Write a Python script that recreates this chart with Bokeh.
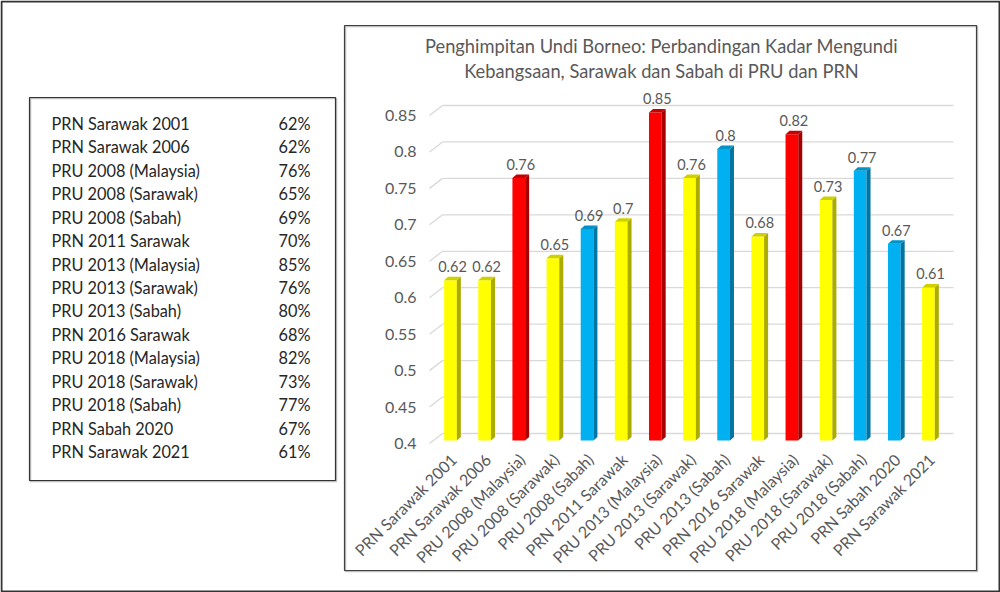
import math
from bokeh.plotting import figure
from bokeh.models import Range1d, FixedTicker, LinearAxis
from bokeh.core.properties import value
from bokeh.embed import file_html
from bokeh.resources import INLINE

# ---------------- data ----------------
categories = [
    "PRN Sarawak 2001", "PRN Sarawak 2006", "PRU 2008 (Malaysia)", "PRU 2008 (Sarawak)",
    "PRU 2008 (Sabah)", "PRN 2011 Sarawak", "PRU 2013 (Malaysia)", "PRU 2013 (Sarawak)",
    "PRU 2013 (Sabah)", "PRN 2016 Sarawak", "PRU 2018 (Malaysia)", "PRU 2018 (Sarawak)",
    "PRU 2018 (Sabah)", "PRN Sabah 2020", "PRN Sarawak 2021",
]
turnout = [0.62, 0.62, 0.76, 0.65, 0.69, 0.70, 0.85, 0.76, 0.80, 0.68, 0.82, 0.73, 0.77, 0.67, 0.61]
region = ["Sarawak", "Sarawak", "Malaysia", "Sarawak", "Sabah", "Sarawak", "Malaysia", "Sarawak",
          "Sabah", "Sarawak", "Malaysia", "Sarawak", "Sabah", "Sabah", "Sarawak"]
table_pct = ["62%", "62%", "76%", "65%", "69%", "70%", "85%", "76%", "80%", "68%", "82%", "73%", "77%", "67%", "61%"]
y_ticks = [0.4, 0.45, 0.5, 0.55, 0.6, 0.65, 0.7, 0.75, 0.8, 0.85]
y_tick_labels = ["0.4", "0.45", "0.5", "0.55", "0.6", "0.65", "0.7", "0.75", "0.8", "0.85"]
title_lines = ["Penghimpitan Undi Borneo: Perbandingan Kadar Mengundi",
               "Kebangsaan, Sarawak dan Sabah di PRU dan PRN"]

# ---------------- styles / layout ----------------
FONT = "Lato"
front_col = {"Sarawak": "#FFFF00", "Malaysia": "#FF0000", "Sabah": "#00B0F0"}
side_col = {"Sarawak": "#ABAB00", "Malaysia": "#A80000", "Sabah": "#0074A3"}
top_col = {"Sarawak": "#D0D000", "Malaysia": "#C40000", "Sabah": "#0092C8"}
TEXT = "#595959"

W, H = 1000, 592
PPX = 34.14          # pixels per category
PPY = 728.9          # pixels per unit of turnout
X_FIRST = 450.0      # pixel centre of first bar
Y_BASE = 440.0       # pixel of value 0.4
BASE = 0.4


def cat_range(first_px):
    return Range1d((0 - first_px) / PPX, (W - first_px) / PPX)


def val_range(base_px):
    return Range1d(BASE - (H - base_px) / PPY, BASE + base_px / PPY)


p = figure(width=W, height=H, output_backend="svg", toolbar_location=None,
           x_range=Range1d(0, W), y_range=Range1d(H, 0),
           x_axis_location=None, y_axis_location=None, min_border=0)
p.extra_x_ranges = {"cat": cat_range(X_FIRST), "cat_axis": cat_range(X_FIRST + 3)}
p.extra_y_ranges = {"val": val_range(Y_BASE), "val_axis": val_range(Y_BASE + 3)}
p.background_fill_color = "white"
p.border_fill_color = "white"
p.outline_line_color = None
p.grid.visible = False

# ---------- back-wall gridlines with perspective stubs ----------
gx_front = (429 - X_FIRST) / PPX
gx_back = (442 - X_FIRST) / PPX
gx_end = (953 - X_FIRST) / PPX
back_dy = 7 / PPY
front_dy = 3 / PPY
n = len(y_ticks)
p.segment(x0=[gx_back] * n, y0=[t + back_dy for t in y_ticks], x1=[gx_end] * n,
          y1=[t + back_dy for t in y_ticks], line_color="#D9D9D9", line_width=1.3,
          x_range_name="cat", y_range_name="val")
p.segment(x0=[gx_front] * n, y0=[t - front_dy for t in y_ticks], x1=[gx_back] * n,
          y1=[t + back_dy for t in y_ticks], line_color="#D9D9D9", line_width=1.3,
          x_range_name="cat", y_range_name="val")

# ---------- 3D bars ----------
bw = 12.7 / PPX
dx, dy = 4 / PPX, 3.5 / PPY
xs = list(range(len(categories)))
left = [i - bw / 2 for i in xs]
right = [i + bw / 2 for i in xs]
p.quad(left=left, right=right, bottom=[BASE] * len(xs), top=turnout,
       fill_color=[front_col[r] for r in region], line_color=None,
       x_range_name="cat", y_range_name="val")
p.patches(xs=[[r, r + dx, r + dx, r] for r in right],
          ys=[[BASE, BASE + dy, v + dy, v] for v in turnout],
          fill_color=[side_col[r] for r in region], line_color=None,
          x_range_name="cat", y_range_name="val")
p.patches(xs=[[l, l + dx, r + dx, r] for l, r in zip(left, right)],
          ys=[[v, v + dy, v + dy, v] for v in turnout],
          fill_color=[top_col[r] for r in region], line_color=None,
          x_range_name="cat", y_range_name="val")

# value labels
p.text(x=[i + dx / 2 for i in xs], y=turnout, text=[f"{v:g}" for v in turnout],
       y_offset=-8, text_align="center", text_baseline="bottom",
       text_font=value(FONT), text_font_size="14.5px", text_color=TEXT,
       x_range_name="cat", y_range_name="val")

# ---------- axes (fixed inside the canvas) ----------
yax = LinearAxis(x_range_name="cat", y_range_name="val_axis", fixed_location=gx_front,
                 ticker=FixedTicker(ticks=y_ticks))
yax.major_label_overrides = dict(zip(y_ticks, y_tick_labels))
yax.axis_line_color = None
yax.major_tick_line_color = None
yax.minor_tick_line_color = None
yax.major_tick_out = 0
yax.major_tick_in = 0
yax.major_label_standoff = 13
yax.major_label_text_font = FONT
yax.major_label_text_font_size = "16px"
yax.major_label_text_color = TEXT
p.add_layout(yax, "left")

xax = LinearAxis(x_range_name="cat_axis", y_range_name="val", fixed_location=BASE,
                 ticker=FixedTicker(ticks=xs))
xax.major_label_overrides = dict(zip(xs, categories))
xax.major_label_orientation = math.pi / 4
xax.axis_line_color = None
xax.major_tick_line_color = None
xax.minor_tick_line_color = None
xax.major_tick_out = 0
xax.major_tick_in = 0
xax.major_label_standoff = 16
xax.major_label_text_font = FONT
xax.major_label_text_font_size = "16px"
xax.major_label_text_color = TEXT
p.add_layout(xax, "below")

# ---------- frames ----------
p.quad(left=[1], right=[W - 1], top=[1], bottom=[H - 1], fill_color=None,
       line_color="#333333", line_width=2)
p.quad(left=[345], right=[977], top=[26], bottom=[571], fill_color=None,
       line_color="#BFBFBF", line_width=1.5)
p.quad(left=[344], right=[976], top=[25], bottom=[570], fill_color=None,
       line_color="#404040", line_width=1.2)
p.quad(left=[30], right=[336], top=[98], bottom=[481], fill_color=None,
       line_color="#BFBFBF", line_width=1.5)
p.quad(left=[29], right=[335], top=[97], bottom=[480], fill_color=None,
       line_color="#333333", line_width=1.2)

# ---------- title ----------
p.text(x=[661] * len(title_lines), y=[45 + 25 * k for k in range(len(title_lines))],
       text=title_lines, text_align="center", text_baseline="middle",
       text_font=value(FONT), text_font_size="18.3px", text_color=TEXT)

# ---------- table ----------
rows_y = [123 + 23.43 * k for k in range(len(categories))]
p.text(x=[51] * len(categories), y=rows_y, text=categories, text_align="left",
       text_baseline="middle", text_font=value(FONT), text_font_size="16.3px",
       text_color="#262626")
p.text(x=[310] * len(table_pct), y=rows_y, text=table_pct, text_align="right",
       text_baseline="middle", text_font=value(FONT), text_font_size="16.3px",
       text_color="#262626")

open("out.html", "w").write(file_html(p, INLINE))
